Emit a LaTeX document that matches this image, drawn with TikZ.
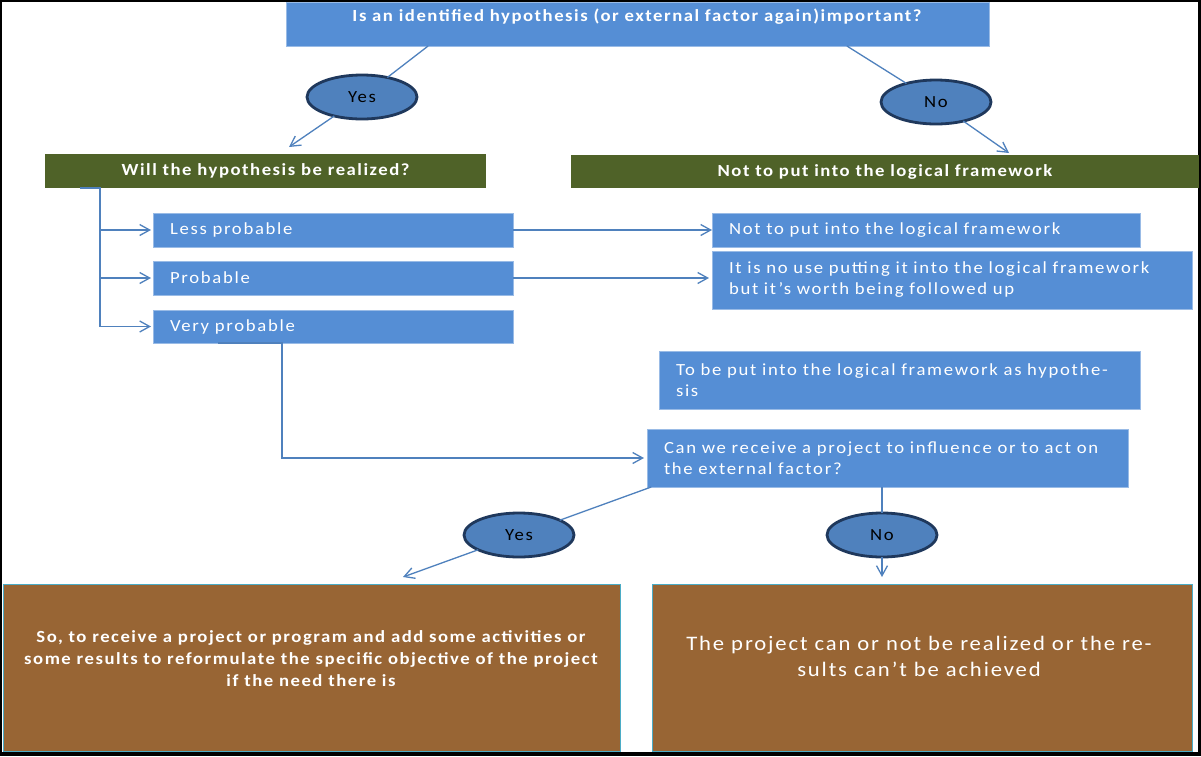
\documentclass[tikz,border=0pt]{standalone}
\usepackage{fontspec}
\setmainfont{Carlito}
\usetikzlibrary{arrows.meta,calc,shapes.geometric}

\definecolor{boxblue}{RGB}{85,142,213}
\definecolor{olivebar}{RGB}{79,98,40}
\definecolor{brownbox}{RGB}{152,101,52}
\definecolor{ovalfill}{RGB}{79,129,189}
\definecolor{ovaledge}{RGB}{31,56,92}
\definecolor{linkblue}{RGB}{79,129,189}
\definecolor{rim}{RGB}{75,172,198}

\newcommand\bodyfont{\fontsize{8.5}{10.5}\selectfont\addfontfeatures{FakeStretch=1.1,LetterSpace=10}}
\newcommand\headfont{\bfseries\fontsize{8.5}{11}\selectfont\addfontfeatures{FakeStretch=1.1,LetterSpace=9}}
\newcommand\bigfont{\fontsize{10.3}{13}\selectfont\addfontfeatures{FakeStretch=1.1,LetterSpace=9}}

\begin{document}
\begin{tikzpicture}[x=0.5pt,y=-0.5pt,
  every node/.style={inner sep=0pt, outer sep=0pt},
  bluebox/.style={rectangle, fill=boxblue, draw=boxblue!60!white, line width=0.4pt,
    anchor=north west, text=white, align=left, font=\bodyfont, inner xsep=8.5pt},
  greenbar/.style={rectangle, fill=olivebar, anchor=north west, text=white,
    align=center, font=\headfont},
  brownpanel/.style={rectangle, fill=brownbox, draw=rim, line width=0.5pt, anchor=north west},
  oval/.style={ellipse, fill=ovalfill, draw=ovaledge, line width=1.4pt,
    minimum width=55pt, minimum height=22pt, font=\bodyfont, text=black},
  conn/.style={draw=linkblue, line width=0.65pt},
  arr/.style={conn, -{Straight Barb[length=5pt,width=5.5pt,line width=0.65pt]}}
]
% frame
\fill[black] (0,0) rectangle (1201,756);
\fill[white] (2,2) rectangle (1198,752);

% question at the top
\node[bluebox, minimum width=351.5pt, minimum height=22pt] (top) at (286,2) {};
\node[font=\headfont, text=white] (topt) at (637,17)
  {Is an identified hypothesis (or external factor again)important?};

% first answer ovals
\node[oval] (yes1) at (362,97) {Yes};
\node[oval] (no1) at (936,102) {No};

% green bars
\node[greenbar, minimum width=220.5pt, minimum height=17pt] (g1) at (45,154)
  {Will the hypothesis be realized?};
\node[greenbar, minimum width=314pt, minimum height=16.5pt] (g2) at (571,155)
  {Not to put into the logical framework};

% probability boxes
\node[bluebox, text width=163pt, minimum height=17pt] (lp) at (153,213) {Less probable};
\node[bluebox, text width=163pt, minimum height=17pt] (pb) at (153,261) {Probable};
\node[bluebox, text width=163pt, minimum height=16.5pt] (vp) at (153,310) {Very probable};

% consequences
\node[bluebox, text width=197pt, minimum height=17pt] (rn1) at (712,213)
  {Not to put into the logical framework};
\node[bluebox, text width=223pt, minimum height=29pt] (itb) at (712,251)
  {It is no use putting it into the logical framework\\but it’s worth being followed up};
\node[bluebox, text width=223.5pt, minimum height=29pt] (tbp) at (659,351)
  {To be put into the logical framework as hypothe-\\sis};
\node[bluebox, text width=223.5pt, minimum height=29pt] (can) at (647,429)
  {Can we receive a project to influence or to act on\\the external factor?};

% second answer ovals
\node[oval] (yes2) at (519,535) {Yes};
\node[oval] (no2) at (882,535) {No};

% outcome panels
\node[brownpanel, minimum width=308.5pt, minimum height=83.5pt] (bl) at (3,584) {};
\node[brownpanel, minimum width=270pt, minimum height=83.5pt] (br) at (652,584) {};
\node[font=\headfont, text=white, align=center] (blt) at (311,659)
  {So, to receive a project or program and add some activities or\\
   some results to reformulate the specific objective of the project\\
   if the need there is};
\node[font=\bigfont, text=white, align=center] (brt) at (919,656)
  {The project can or not be realized or the re-\\sults can’t be achieved};

% free ends of the connectors
\coordinate (yesEnd) at (289,147);
\coordinate (noEnd) at (1009,153);
\coordinate (spine) at (100,188);
\coordinate (vpA) at (218,343);
\coordinate (vpB) at (282,343);
\coordinate (yes2End) at (403,577);
\coordinate (no2End) at (882,577);

% connectors
\draw[conn] (top.186) -- (yes1);
\draw[arr] (yes1) -- (yesEnd);
\draw[conn] (top.354) -- (no1);
\draw[arr] (no1) -- (noEnd);

\draw[arr] (spine -| 80,0) -- (spine) |- ([xshift=-1pt]vp.west);
\draw[arr] (spine |- lp.west) -- ([xshift=-1pt]lp.west);
\draw[arr] (spine |- pb.west) -- ([xshift=-1pt]pb.west);

\draw[arr] (lp.east) -- (rn1.west);
\draw[arr] (pb.east) -- ([xshift=-1.5pt]pb.east -| itb.west);
\draw[arr] (vpA) -- (vpB) |- ([xshift=-1.5pt]can.west);

\draw[conn] (can.187) -- (yes2);
\draw[arr] (yes2) -- (yes2End);
\draw[conn] (can.south -| no2) -- (no2);
\draw[arr] (no2) -- (no2End);
\end{tikzpicture}
\end{document}
